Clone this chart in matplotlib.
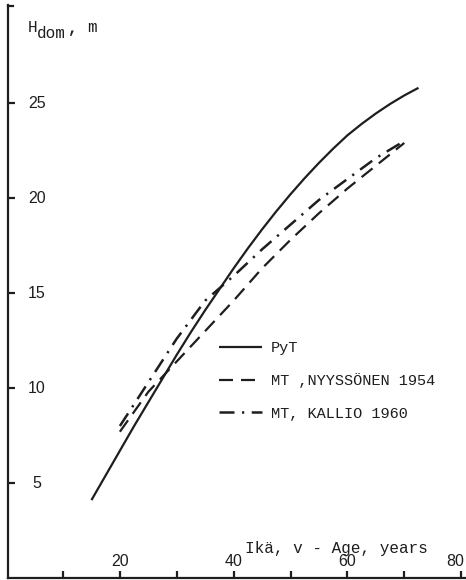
import matplotlib
matplotlib.use("Agg")
import matplotlib.pyplot as plt
from matplotlib.lines import Line2D

# --- data ---
age_pyt = [15, 17.5, 20, 22.5, 25, 27.5, 30, 32.5, 35, 37.5, 40, 42.5, 45, 47.5,
           50, 52.5, 55, 57.5, 60, 62.5, 65, 67.5, 70, 72.5]
h_pyt = [4.1, 5.4, 6.7, 8.0, 9.25, 10.5, 11.75, 12.95, 14.1, 15.2, 16.3, 17.35, 18.35, 19.3,
         20.2, 21.05, 21.85, 22.6, 23.3, 23.9, 24.45, 24.95, 25.4, 25.8]

age_nyy = [20, 25, 30, 35, 40, 45, 50, 55, 60, 65, 70]
h_nyy = [7.7, 9.8, 11.4, 13.0, 14.6, 16.3, 17.8, 19.2, 20.5, 21.7, 22.9]

age_kal = [20, 25, 30, 35, 40, 45, 50, 55, 60, 65, 70]
h_kal = [8.0, 10.3, 12.6, 14.6, 15.9, 17.3, 18.6, 19.9, 21.0, 22.1, 23.0]

labels = ["PyT", "MT ,NYYSSÖNEN 1954", "MT, KALLIO 1960"]
xticks_all = [10, 20, 30, 40, 50, 60, 70, 80]
xtick_labels = ["", "20", "", "40", "", "60", "", "80"]
yticks = [5, 10, 15, 20, 25]

W, H = 466, 580
ink = "#1e1e1e"
mono = "Liberation Mono"
sans = "Liberation Sans"

fig = plt.figure(figsize=(W / 100, H / 100), dpi=100)
ax = fig.add_axes([8 / W, 2 / H, (W - 8) / W, (573) / H])
ax.set_xlim(0.33, 80.85)
ax.set_ylim(0, 30.16)

for s in ["top", "right"]:
    ax.spines[s].set_visible(False)
for s in ["left", "bottom"]:
    ax.spines[s].set_color(ink)
    ax.spines[s].set_linewidth(1.6)

lw = 1.6
l1, = ax.plot(age_pyt, h_pyt, color=ink, lw=lw, solid_capstyle="butt")
l2, = ax.plot(age_nyy, h_nyy, color=ink, lw=lw, linestyle=(0, (6.3, 3.6)))
l3, = ax.plot(age_kal, h_kal, color=ink, lw=lw + 0.2, linestyle=(0, (6.0, 3.0, 0.9, 3.0)))

# ticks
ax.set_xticks(xticks_all)
ax.set_xticklabels([])
ax.set_yticks(yticks)
ax.set_yticklabels([])
ax.tick_params(axis="both", direction="in", length=5, width=1.6, color=ink)

# tick labels placed inside the axes
for x, lab in zip(xticks_all, xtick_labels):
    if lab:
        dx = -6 if x == 80 else 0
        ax.annotate(lab, xy=(x, 0), xytext=(dx, 16), textcoords="offset pixels",
                    ha="center", va="center", fontsize=11.5, family=sans, color=ink)
for y in yticks:
    ax.annotate(str(y), xy=(0.33, y), xytext=(29, 0), textcoords="offset pixels",
                ha="center", va="center", fontsize=11.5, family=sans, color=ink)

# top hook on y axis
fig.add_artist(Line2D([8 / W, 13 / W], [1 - 6 / H, 1 - 6 / H], color=ink, lw=1.6,
                      transform=fig.transFigure))

# axis titles
fig.text(28 / W, 1 - 27 / H, "H", fontsize=11.5, family=mono, color=ink, va="center", ha="left")
fig.text(37 / W, 1 - 34 / H, "dom", fontsize=11.5, family=mono, color=ink, va="center", ha="left")
fig.text(68 / W, 1 - 28 / H, ",", fontsize=11.5, family=mono, color=ink, va="center", ha="left",
         fontweight="bold")
fig.text(87 / W, 1 - 27 / H, "m", fontsize=11.5, family=mono, color=ink, va="center", ha="left")

fig.text(245 / W, 1 - 548 / H, "Ikä, v - Age, years", fontsize=11.5, family=mono,
         color=ink, va="center", ha="left")

leg = ax.legend([l1, l2, l3], labels, loc="upper left",
                bbox_to_anchor=(219 / W, 1 - 341 / H), bbox_transform=fig.transFigure,
                frameon=False, borderpad=0, borderaxespad=0, handlelength=2.8,
                handletextpad=0.6, labelspacing=1.2,
                prop={"family": mono, "size": 11})
for t in leg.get_texts():
    t.set_color(ink)

fig.savefig("out.png", dpi=100, facecolor="white")
